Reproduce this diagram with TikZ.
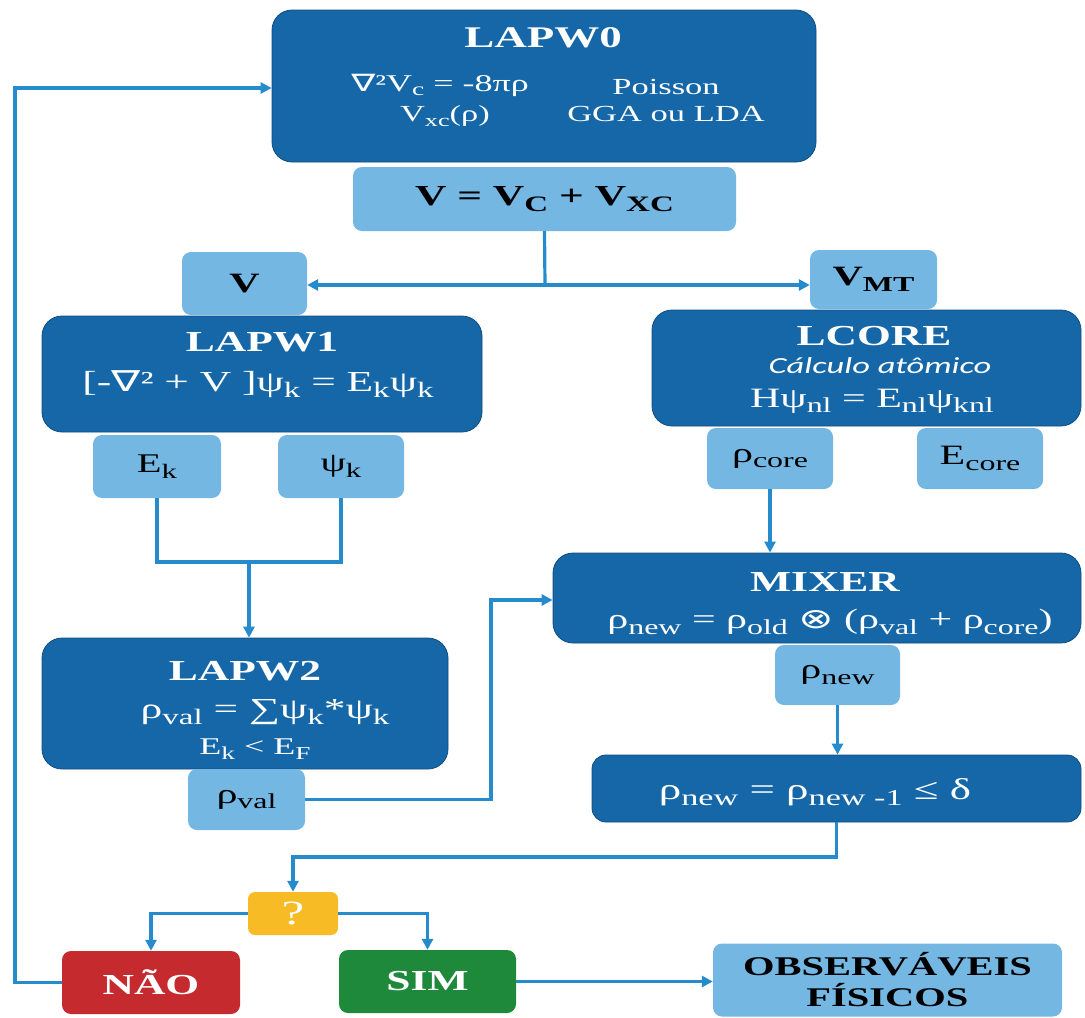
\documentclass[tikz,border=0pt]{standalone}
\usepackage{graphicx}
\usepackage{fontspec}
\setmainfont[FakeStretch=1.5]{Liberation Serif}
\newfontfamily\djv[FakeStretch=1.5]{DejaVu Sans}
\newfontfamily\calf[FakeStretch=1.5]{Carlito}
\usetikzlibrary{arrows.meta}
\newcommand\fsz[1]{\fontsize{#1}{#1}\selectfont}
\newcommand\sbs[1]{\raisebox{-0.2em}{\scalebox{0.76}{#1}}}
\definecolor{dkblue}{RGB}{21,103,168}
\definecolor{ltblue}{RGB}{116,183,227}
\definecolor{lnblue}{RGB}{38,139,204}
\definecolor{qyellow}{RGB}{247,187,38}
\definecolor{nred}{RGB}{196,42,46}
\definecolor{sgreen}{RGB}{30,137,58}
\tikzset{
  dark/.style={fill=dkblue, draw=dkblue!75!black, line width=0.8pt, rounded corners=20pt, inner sep=0pt},
  light/.style={fill=ltblue, rounded corners=9pt, inner sep=0pt, text=black},
  wt/.style={text=white, inner sep=0pt},
  conn/.style={draw=lnblue, line width=3.2pt},
  arr/.style={conn, -{Triangle[length=11pt,width=11pt]}},
}
\begin{document}
\begin{tikzpicture}[x=1pt,y=-1pt]
\useasboundingbox (0,0) rectangle (1085,1018);
% dark boxes
\node[dark, minimum width=544, minimum height=152] (lapw0) at (544,86) {};
\node[dark, minimum width=440, minimum height=116] (lapw1) at (262,374) {};
\node[dark, minimum width=406, minimum height=131] (lapw2) at (245,703.5) {};
\node[dark, minimum width=429, minimum height=116] (lcore) at (866.5,368) {};
\node[dark, minimum width=528, minimum height=90] (mixer) at (817,598) {};
\node[dark, minimum width=489, minimum height=67, rounded corners=14pt] (conv) at (836.5,788.5) {};
% texts in dark boxes
\node[wt, font=\fsz{30}\bfseries] (t0) at (543,38) {LAPW0};
\node[wt, font=\fsz{24}] (t0a) at (440,85) {{\djv ∇}²V\sbs{c} = -8πρ};
\node[wt, font=\fsz{23}] (t0b) at (445,116) {V\sbs{xc}(ρ)};
\node[wt, font=\fsz{23}] (t0c) at (666,87) {Poisson};
\node[wt, font=\fsz{23}] (t0d) at (666,114) {GGA ou LDA};
\node[wt, font=\fsz{29}\bfseries] (t1) at (262,342) {LAPW1};
\node[wt, font=\fsz{29}] (t1a) at (258,384) {[-{\djv ∇}² + V ]ψ\sbs{k} = E\sbs{k}ψ\sbs{k}};
\node[wt, font=\fsz{29}\bfseries] (t2) at (245,671) {LAPW2};
\node[wt, font=\fsz{29}] (t2a) at (265,712) {ρ\sbs{val} = ∑ψ\sbs{k}*ψ\sbs{k}};
\node[wt, font=\fsz{24}] (t2b) at (255,749) {E\sbs{k} < E\sbs{F}};
\node[wt, font=\fsz{29}\bfseries] (tc) at (874,336) {LCORE};
\node[wt, font=\fsz{23}\calf\itshape] (tca) at (880,366) {Cálculo atômico};
\node[wt, font=\fsz{28}] (tcb) at (872,401) {Hψ\sbs{nl} = E\sbs{nl}ψ\sbs{knl}};
\node[wt, font=\fsz{29}\bfseries] (tm) at (825,582) {MIXER};
\node[wt, font=\fsz{28}] (tma) at (830,622) {ρ\sbs{new} = ρ\sbs{old} {\djv ⊗} (ρ\sbs{val} + ρ\sbs{core})};
\node[wt, font=\fsz{30}] (tcv) at (815,792) {ρ\sbs{new} = ρ\sbs{new -1} ≤ δ};
% light boxes
\node[light, minimum width=383, minimum height=64, font=\fsz{29}\bfseries] (vsum) at (544.5,199) {V = V\sbs{C} + V\sbs{XC}};
\node[light, minimum width=125, minimum height=63, font=\fsz{28}\bfseries] (vbox) at (244.5,283.5) {V};
\node[light, minimum width=127, minimum height=59, font=\fsz{28}\bfseries] (vmt) at (873.5,279.5) {V\sbs{MT}};
\node[light, minimum width=128, minimum height=63, font=\fsz{27}] (ek) at (157,466.5) {E\sbs{k}};
\node[light, minimum width=126, minimum height=63, font=\fsz{27}] (psik) at (341,466.5) {ψ\sbs{k}};
\node[light, minimum width=117, minimum height=61, font=\fsz{28}] (rhoval) at (246.5,799.5) {ρ\sbs{val}};
\node[light, minimum width=126, minimum height=61, font=\fsz{28}] (rhocore) at (770,458.5) {ρ\sbs{core}};
\node[light, minimum width=126, minimum height=61, font=\fsz{28}] (ecore) at (980,458.5) {E\sbs{core}};
\node[light, minimum width=125, minimum height=60, font=\fsz{28}] (rhonew) at (837.5,675) {ρ\sbs{new}};
\node[light, minimum width=349, minimum height=73, font=\fsz{27}\bfseries, align=center] (obs) at (887.5,980) {OBSERVÁVEIS\\[4pt]FÍSICOS};
% decision boxes
\node[fill=qyellow, rounded corners=7pt, minimum width=90, minimum height=43, inner sep=0pt, text=white, font=\fsz{34}] (q) at (293,913.5) {?};
\node[fill=nred, rounded corners=9pt, minimum width=178, minimum height=63, text=white, font=\fsz{29}\bfseries] (nao) at (151,982.5) {NÃO};
\node[fill=sgreen, rounded corners=9pt, minimum width=177, minimum height=63, text=white, font=\fsz{29}\bfseries] (sim) at (427.5,981.5) {SIM};
% coordinates
\coordinate (split) at (545,285);
\coordinate (join) at (249,562);
\coordinate (c1) at (491,600);
\coordinate (c2) at (293,857);
\coordinate (c3) at (15,88);
% connectors
\draw[conn] (vsum.south) -- (split);
\draw[arr] (split) -- (split -| vbox.east);
\draw[arr] (split) -- (split -| vmt.west);
\draw[conn] (ek.south) |- (join) -| (psik.south);
\draw[arr] (join) -- (join |- lapw2.north);
\draw[arr] (rhoval.east) -| (c1) -- (c1 -| mixer.west);
\draw[arr] (rhocore.south) -- (rhocore.south |- mixer.north);
\draw[arr] (rhonew.south) -- (rhonew.south |- conv.north);
\draw[arr] (conv.south) |- (c2) -- (q.north);
\draw[arr] (q.west) -| (nao.north);
\draw[arr] (q.east) -| (sim.north);
\draw[arr] (sim.east) -- (sim.east -| obs.west);
\draw[arr] (nao.west) -| (c3) -- (c3 -| lapw0.west);
\end{tikzpicture}
\end{document}
